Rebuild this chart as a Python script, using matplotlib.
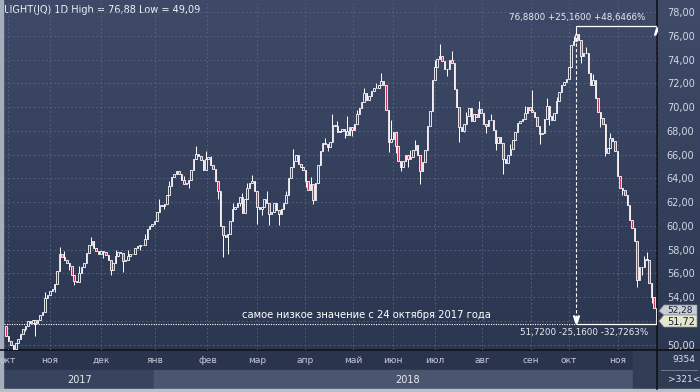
import numpy as np
import matplotlib.pyplot as plt
from matplotlib.colors import LinearSegmentedColormap
from matplotlib.patches import Rectangle, Polygon
from matplotlib.transforms import blended_transform_factory

# daily closes left to right (one value per bar)
close = [
    50.70, 50.30, 50.00, 49.60, 50.10, 50.50, 50.90, 51.30, 51.60, 52.00,
    51.85, 52.10, 51.80, 52.10, 52.50, 52.70, 53.90, 54.20, 54.55, 54.70,
    55.10, 56.20, 57.60, 57.35, 57.10, 56.90, 56.60, 55.90, 55.35, 55.30,
    56.00, 56.50, 56.90, 57.70, 58.40, 58.70, 58.10, 57.90, 57.60, 57.85,
    57.80, 57.55, 57.10, 56.30, 56.90, 57.50, 57.80, 57.70, 57.07, 57.15,
    57.50, 57.60, 57.60, 58.15, 58.30, 58.35, 58.40, 58.90, 59.70, 59.95,
    60.17, 60.40, 61.20, 61.80, 61.70, 61.85, 62.60, 63.40, 64.15, 64.40,
    64.60, 64.40, 63.90, 63.55, 63.60, 63.90, 64.70, 65.60, 66.05, 65.90,
    65.55, 64.70, 65.60, 65.80, 65.10, 64.80, 63.80, 62.90, 60.00, 59.20,
    59.10, 59.30, 60.40, 61.40, 61.58, 61.90, 62.40, 61.10, 62.30, 63.20,
    63.60, 63.80, 62.90, 61.55, 61.44, 61.55, 62.30, 61.90, 61.00, 61.20,
    61.90, 61.30, 61.01, 61.40, 61.90, 62.60, 64.00, 65.00, 65.45, 66.00,
    65.20, 64.96, 64.70, 63.80, 63.00, 63.55, 62.15, 63.60, 65.10, 66.30,
    67.00, 66.90, 66.65, 67.10, 68.50, 68.40, 67.90, 68.00, 68.15, 68.00,
    67.65, 68.30, 68.10, 68.60, 69.40, 69.95, 70.40, 71.20, 70.60, 70.95,
    71.40, 71.60, 71.65, 71.90, 72.20, 71.90, 69.80, 67.10, 67.30, 67.90,
    66.70, 65.50, 65.00, 65.50, 65.94, 65.60, 65.80, 66.40, 66.80, 66.00,
    64.60, 65.35, 66.40, 68.40, 69.70, 72.28, 73.40, 74.10, 74.35, 73.90,
    73.20, 73.20, 74.00, 73.70, 71.50, 70.00, 68.30, 68.00, 68.60, 69.30,
    69.90, 68.80, 69.40, 69.20, 69.85, 69.55, 68.60, 68.40, 68.95, 68.90,
    68.06, 66.95, 67.50, 67.00, 65.60, 65.30, 65.95, 66.45, 67.25, 67.95,
    68.70, 68.80, 69.00, 69.50, 70.00, 69.80, 69.60, 69.20, 68.40, 67.70,
    67.80, 69.00, 70.10, 69.30, 68.95, 69.50, 70.50, 71.30, 71.85, 72.15,
    72.40, 73.40, 75.20, 75.60, 76.20, 75.66, 74.30, 74.55, 74.60, 72.85,
    71.90, 72.25, 70.80, 69.60, 69.10, 68.60, 66.10, 66.60, 67.40, 67.15,
    66.30, 64.20, 63.20, 63.05, 62.60, 61.80, 60.50, 59.80, 58.70, 55.40,
    56.50, 56.50, 57.20, 57.10, 55.20, 54.00, 53.10, 51.72,
]
first_open = 51.60

# wicks that stick out beyond the bodies: (bar, price)
wick_high = [(16, 54.40), (22, 58.20), (24, 57.90), (30, 56.60), (35, 59.10), (45, 58.00),
             (50, 58.00), (57, 59.30), (63, 62.30), (67, 63.80), (73, 64.20), (78, 66.70),
             (82, 66.30), (84, 65.90), (93, 61.90), (97, 62.80), (99, 63.60), (101, 64.25),
             (107, 62.90), (115, 62.90), (118, 66.50), (125, 64.10), (131, 67.40),
             (134, 69.46), (136, 68.80), (140, 69.30), (144, 69.80), (147, 71.60),
             (152, 72.00), (154, 72.85), (158, 68.90), (166, 66.40), (168, 67.20),
             (176, 74.00), (178, 75.30), (183, 74.70), (189, 69.60), (194, 70.50),
             (199, 69.40), (207, 66.90), (213, 70.10), (216, 71.44), (222, 70.80),
             (226, 70.90), (233, 76.00), (234, 76.88), (238, 75.10), (241, 72.80),
             (248, 67.80), (258, 59.40), (262, 57.50), (263, 57.80)]
wick_low = [(3, 49.09), (8, 51.10), (12, 50.70), (20, 54.40), (26, 56.30), (28, 55.00),
            (40, 57.30), (43, 55.90), (48, 56.10), (55, 58.00), (65, 61.40), (75, 63.20),
            (87, 62.30), (89, 57.40), (91, 57.60), (96, 61.70), (103, 60.17), (105, 60.90),
            (108, 60.10), (112, 60.10), (123, 63.30), (126, 61.86), (132, 66.30),
            (139, 67.40), (142, 67.60), (157, 66.20), (160, 66.10), (162, 64.60),
            (165, 65.00), (170, 63.55), (181, 72.60), (186, 67.07), (188, 67.90),
            (197, 67.80), (201, 66.40), (204, 64.39), (209, 67.50), (219, 66.90),
            (223, 68.50), (236, 73.70), (244, 68.30), (246, 65.90), (253, 62.60),
            (259, 54.82), (261, 55.90), (265, 53.50), (267, 51.40)]

months = ['окт', 'ноя', 'дек', 'янв', 'фев', 'мар', 'апр', 'май', 'июн', 'июл', 'авг',
          'сен', 'окт', 'ноя']
month_bar = [0.8, 18.0, 38.9, 61.0, 82.7, 103.2, 122.9, 142.5, 158.9, 176.1, 195.4,
             215.5, 231.0, 251.1]
price_ticks = list(range(50, 80, 2))

peak_price, last_price, prev_price = 76.88, 51.72, 52.28
chg, chg_pct_up, chg_pct_dn = 25.16, 48.6466, -32.7263


def ru(v, d=2):
    return f"{v:.{d}f}".replace('.', ',')


n = len(close)
opens = [first_open] + close[:-1]
highs = [max(o, c) for o, c in zip(opens, close)]
lows = [min(o, c) for o, c in zip(opens, close)]
for i, v in wick_high:
    highs[i] = max(highs[i], v)
for i, v in wick_low:
    lows[i] = min(lows[i], v)
peak_i = int(np.argmax(highs))

W, H = 700, 392
fig = plt.figure(figsize=(7, 3.92), dpi=100)

# background panel, drawn in pixel coordinates
bg = fig.add_axes([0, 0, 1, 1], zorder=-10)
grad = np.linspace(0, 1, 256)[:, None]
bg.imshow(grad, extent=[0, 657, 350, 0], aspect='auto',
          cmap=LinearSegmentedColormap.from_list('g', ['#3e4a67', '#2b3651']))
bg.imshow(grad, extent=[657, W, 350, 0], aspect='auto',
          cmap=LinearSegmentedColormap.from_list('g2', ['#3f4b68', '#2c3752']))
bg.set_xlim(0, W)
bg.set_ylim(H, 0)
bg.axis('off')
bg.add_patch(Rectangle((0, 350), W, 20, color='#2a344c'))
bg.add_patch(Rectangle((0, 370), 154, 19, color='#38445e'))
bg.add_patch(Rectangle((154, 370), 479, 19, color='#4a5670'))
bg.add_patch(Rectangle((633, 350), 24, 39, color='#323d55'))
bg.add_patch(Rectangle((657, 350), 43, 39, color='#2f3a53'))
bg.plot([0, W], [350, 350], color='#101218', lw=1.2)
bg.plot([657, 657], [0, 389], color='#101218', lw=1.2)
bg.plot([661, 697], [370, 370], color='#7a8599', lw=0.6)
bg.add_patch(Rectangle((0, 0), 3, H, color='#a7aebb'))
bg.add_patch(Rectangle((0, 389), W, 3, color='#b9bfca'))
bg.text(80, 380, '2017', color='#e6e9ef', fontsize=7, ha='center', va='center')
bg.text(408, 380, '2018', color='#e6e9ef', fontsize=7, ha='center', va='center')
bg.text(4, 10, 'LIGHT(JQ) 1D High = 76,88 Low = 49,09', color='#f2f4f8',
        fontsize=7, ha='left', va='center')

ax = fig.add_axes([4 / W, (H - 350) / H, 653 / W, 347 / H])
ax.set_facecolor('none')
step = 650.5 / (n - 1)
ax.set_xlim(-2 / step, (n - 1) + 0.5 / step)
ax.set_ylim(49.54, 78.78)
for s in ax.spines.values():
    s.set_visible(False)

ax.set_yticks(price_ticks)
ax.set_yticklabels([ru(v) for v in price_ticks])
ax.yaxis.tick_right()
ax.tick_params(axis='y', length=0, pad=7, labelsize=7, labelcolor='#d3d8e2')
ax.set_xticks(month_bar)
ax.set_xticklabels(months)
ax.tick_params(axis='x', length=0, pad=4.5, labelsize=6.5, labelcolor='#c3cad8')
ax.grid(True, color='#5b6884', lw=0.6, linestyle=(0, (2, 3)))
ax.set_axisbelow(True)

x = np.arange(n)
o = np.array(opens)
c = np.array(close)
up = c >= o
ax.vlines(x, highs, lows, color='white', lw=0.7, zorder=3)
ax.bar(x[up], (c - o)[up], bottom=o[up], width=0.62, facecolor='#34405c',
       edgecolor='white', lw=0.6, zorder=4)
ax.bar(x[~up], (o - c)[~up], bottom=c[~up], width=0.62, facecolor='#c23a55',
       edgecolor='white', lw=0.6, zorder=4)

# measurement from the high to the last price
ax.hlines(last_price, x[0] - 1, peak_i, color='white', lw=0.8, linestyle=(0, (1, 1.2)), zorder=5)
ax.hlines(last_price, peak_i, n - 1, color='white', lw=0.9, zorder=5)
ax.hlines(peak_price, peak_i, n - 1, color='white', lw=0.9, zorder=5)
ax.vlines(peak_i, last_price, peak_price, color='white', lw=0.8, linestyle=(0, (3, 2)), zorder=5)
ax.vlines(n - 1, last_price, peak_price, color='white', lw=0.8, linestyle=(0, (3, 2)), zorder=5)
ax.plot(peak_i, last_price + 0.45, marker='$\\vee$', color='white', ms=5, zorder=6)
ax.plot(n - 1, peak_price - 0.45, marker='$\\wedge$', color='white', ms=5, zorder=6)
ax.annotate(f"{ru(peak_price, 4)} +{ru(chg, 4)} +{ru(chg_pct_up, 4)}%",
            (n - 1, peak_price), xytext=(-11, 8), textcoords='offset pixels',
            ha='right', va='center', color='#e9ecf2', fontsize=6.3)
ax.annotate(f"{ru(last_price, 4)} -{ru(chg, 4)} {ru(chg_pct_dn, 4)}%",
            (n - 1, last_price), xytext=(-8, -8), textcoords='offset pixels',
            ha='right', va='center', color='#e9ecf2', fontsize=6.3)
tr = blended_transform_factory(ax.transAxes, ax.transData)
ax.annotate('самое низкое значение с 24 октября 2017 года', (0.555, last_price),
            xycoords=tr, xytext=(0, 9), textcoords='offset pixels',
            ha='center', va='center', color='white', fontsize=7.2)

# overlay on top of the price scale: price tags and the bar counter
top = fig.add_axes([0, 0, 1, 1], zorder=10)
top.set_xlim(0, W)
top.set_ylim(H, 0)
top.axis('off')
top.patch.set_alpha(0)
top.add_patch(Polygon([(659, 311), (664, 305), (697, 305), (697, 315), (664, 315)],
                      closed=True, facecolor='#c9cdd5', edgecolor='#8a8f99', lw=0.5))
t = top.text(667, 310, ru(prev_price), color='#1c2230', fontsize=6.5, ha='left', va='center')
t.set_clip_path(Rectangle((659, 304), 40, 10, transform=top.transData))
top.add_patch(Polygon([(659, 321), (664, 315), (697, 315), (697, 327), (664, 327)],
                      closed=True, facecolor='#e5e6cc', edgecolor='#8a8f99', lw=0.5))
top.text(667, 321.5, ru(last_price), color='#1c2230', fontsize=7, ha='left', va='center')
top.text(684, 360, '9354', color='#dfe3ea', fontsize=6.5, ha='center', va='center')
top.text(684, 380, '>321<', color='#dfe3ea', fontsize=6.5, ha='center', va='center')

fig.savefig('out.png', dpi=100)
